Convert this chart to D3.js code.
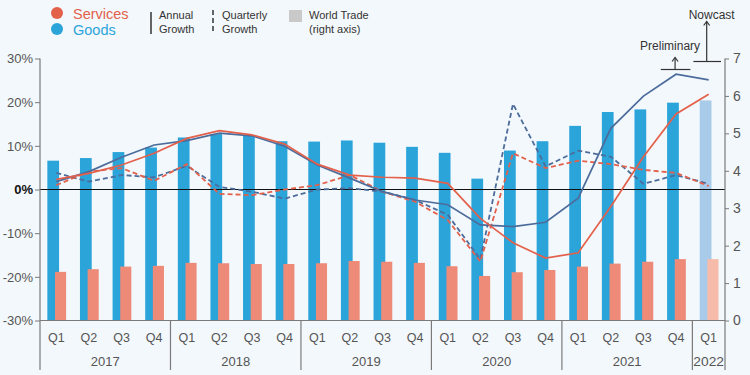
<!DOCTYPE html>
<html>
<head>
<meta charset="utf-8">
<script src="https://cdn.jsdelivr.net/npm/d3@7"></script>
<style>
  body { margin: 0; background: #f3f8fc; }
  svg { display: block; font-family: "Liberation Sans", Arial, sans-serif; }
</style>
</head>
<body>
<svg id="chart" width="750" height="375"></svg>
<script>
// Periods on the x axis
const years    = ['2017', '2018', '2019', '2020', '2021', '2022'];
const periods  = ['2017 Q1','2017 Q2','2017 Q3','2017 Q4','2018 Q1','2018 Q2','2018 Q3','2018 Q4',
                  '2019 Q1','2019 Q2','2019 Q3','2019 Q4','2020 Q1','2020 Q2','2020 Q3','2020 Q4',
                  '2021 Q1','2021 Q2','2021 Q3','2021 Q4','2022 Q1'];

// World trade, trillion USD (right axis)
const goodsTrade    = [4.27,4.34,4.50,4.62,4.89,4.98,4.93,4.79,4.78,4.81,4.75,4.64,4.48,3.79,4.54,4.79,5.20,5.57,5.64,5.82,5.88];
const servicesTrade = [1.30,1.37,1.44,1.46,1.54,1.53,1.51,1.51,1.53,1.59,1.57,1.54,1.45,1.19,1.29,1.35,1.44,1.52,1.57,1.64,1.64];

// Growth rates, % (left axis)
const goodsAnnual       = [1.8,4.1,7.4,10.2,11.2,12.9,12.3,9.9,5.6,2.6,-0.5,-2.4,-3.5,-8.1,-8.5,-7.5,-2.0,14.0,21.4,26.4,25.1];
const servicesAnnual    = [2.3,3.7,5.6,8.3,11.7,13.5,12.5,10.4,5.8,3.3,2.8,2.6,1.4,-6.6,-12.2,-15.7,-14.5,-3.9,7.5,17.3,21.8];
const goodsQuarterly    = [3.8,1.8,3.3,2.8,5.4,0.6,-0.5,-2.1,0.0,0.3,-0.5,-2.4,-5.8,-16.0,19.6,5.3,8.9,7.5,1.3,3.3,1.3];
const servicesQuarterly = [1.0,4.1,4.9,2.0,5.8,-1.0,-1.3,0.0,1.0,3.3,-0.5,-2.8,-7.0,-16.5,8.3,4.9,6.6,5.8,4.5,3.8,0.8];

// Axis ticks
const leftTicks  = [-30, -20, -10, 0, 10, 20, 30];
const rightTicks = [0, 1, 2, 3, 4, 5, 6, 7];

const colours = {
  goodsBar: '#2ba4da', goodsBarLight: '#a8cbea',
  servicesBar: '#ee8b78', servicesBarLight: '#f6bba9',
  goodsLine: '#4c6c9b', servicesLine: '#e3604b',
  axis: '#7a7a7a', text: '#555'
};

const svg = d3.select('#chart');
const margin = {left: 40, right: 25, top: 58.5, bottom: 54.5};
const W = 750, H = 375;

const x = d3.scaleBand().domain(periods).range([margin.left, W - margin.right]).padding(0);
const yL = d3.scaleLinear().domain([-30, 30]).range([H - margin.bottom, margin.top]);
const yR = d3.scaleLinear().domain([0, 7]).range([H - margin.bottom, margin.top]);
const bw = x.bandwidth();
const cx = p => x(p) + bw / 2;
const isNowcast = (d, i) => i === periods.length - 1;

// Bars (right axis)
const barG = svg.append('g');
barG.selectAll('rect.goods').data(goodsTrade).join('rect')
  .attr('class', 'goods')
  .attr('x', (d, i) => x(periods[i]) + bw * 0.225)
  .attr('width', bw * 0.36)
  .attr('y', d => yR(d))
  .attr('height', d => yR(0) - yR(d))
  .attr('fill', (d, i) => isNowcast(d, i) ? colours.goodsBarLight : colours.goodsBar);

barG.selectAll('rect.services').data(servicesTrade).join('rect')
  .attr('class', 'services')
  .attr('x', (d, i) => x(periods[i]) + bw * 0.46)
  .attr('width', bw * 0.34)
  .attr('y', d => yR(d))
  .attr('height', d => yR(0) - yR(d))
  .attr('fill', (d, i) => isNowcast(d, i) ? colours.servicesBarLight : colours.servicesBar);

// Zero line
svg.append('line')
  .attr('x1', margin.left).attr('x2', W - margin.right)
  .attr('y1', yL(0)).attr('y2', yL(0))
  .attr('stroke', '#111').attr('stroke-width', 1.2);

// Growth lines
const line = d3.line().x((d, i) => cx(periods[i])).y(d => yL(d));
const series = [
  {data: goodsQuarterly,    colour: colours.goodsLine,    dash: '5,3'},
  {data: servicesQuarterly, colour: colours.servicesLine, dash: '5,3'},
  {data: goodsAnnual,       colour: colours.goodsLine,    dash: null},
  {data: servicesAnnual,    colour: colours.servicesLine, dash: null}
];
svg.append('g').selectAll('path').data(series).join('path')
  .attr('d', d => line(d.data))
  .attr('fill', 'none')
  .attr('stroke', d => d.colour)
  .attr('stroke-width', d => d.dash ? 1.8 : 1.7)
  .attr('stroke-dasharray', d => d.dash);

// Left axis
const leftAxis = svg.append('g')
  .attr('transform', `translate(${margin.left},0)`)
  .call(d3.axisLeft(yL).tickValues(leftTicks).tickSize(5).tickPadding(2).tickFormat(d => d + '%'));
leftAxis.select('.domain').remove();
leftAxis.selectAll('.tick line').attr('stroke', colours.axis);
leftAxis.selectAll('.tick text')
  .attr('fill', d => d === 0 ? '#111' : colours.text)
  .attr('font-weight', d => d === 0 ? 'bold' : null)
  .attr('font-family', 'inherit').attr('font-size', 13);

// Right axis
const rightAxis = svg.append('g')
  .attr('transform', `translate(${W - margin.right},0)`)
  .call(d3.axisRight(yR).tickValues(rightTicks).tickSize(4).tickPadding(4).tickFormat(d3.format('d')));
rightAxis.select('.domain').remove();
rightAxis.selectAll('.tick line').attr('stroke', colours.axis);
rightAxis.selectAll('.tick text').attr('fill', colours.text).attr('font-family', 'inherit').attr('font-size', 14);

// Axis lines (left and right run down through the category labels)
const axisBottom = H - 5;
svg.append('line').attr('x1', margin.left).attr('x2', margin.left)
  .attr('y1', yL(30)).attr('y2', axisBottom).attr('stroke', colours.axis).attr('stroke-width', 1.2);
svg.append('line').attr('x1', W - margin.right).attr('x2', W - margin.right)
  .attr('y1', yR(7)).attr('y2', axisBottom).attr('stroke', colours.axis).attr('stroke-width', 1.2);
svg.append('line').attr('x1', margin.left).attr('x2', W - margin.right)
  .attr('y1', yL(-30)).attr('y2', yL(-30)).attr('stroke', colours.axis).attr('stroke-width', 1.2);

// Category labels
const xAxisG = svg.append('g').attr('fill', colours.text);
xAxisG.selectAll('text.q').data(periods).join('text')
  .attr('class', 'q')
  .attr('x', d => cx(d)).attr('y', yL(-30) + 21)
  .attr('text-anchor', 'middle').attr('font-size', 12.5)
  .text(d => d.split(' ')[1]);

const yearSpan = yr => {
  const ps = periods.filter(p => p.startsWith(yr));
  return [x(ps[0]), x(ps[ps.length - 1]) + bw];
};
xAxisG.selectAll('text.yr').data(years).join('text')
  .attr('class', 'yr')
  .attr('x', d => d3.mean(yearSpan(d))).attr('y', yL(-30) + 45)
  .attr('text-anchor', 'middle').attr('font-size', 13)
  .attr('textLength', d => d === '2022' ? bw - 2 : null)
  .attr('lengthAdjust', 'spacingAndGlyphs')
  .text(d => d);
svg.append('g').selectAll('line').data(years.slice(1)).join('line')
  .attr('x1', d => yearSpan(d)[0]).attr('x2', d => yearSpan(d)[0])
  .attr('y1', yL(-30)).attr('y2', axisBottom)
  .attr('stroke', colours.axis).attr('stroke-width', 1.2);

// Preliminary / Nowcast annotations
const annot = svg.append('g').attr('stroke', '#333').attr('stroke-width', 1.2).attr('fill', 'none');
const arrowHead = (g, xc, yTop) => g.append('path')
  .attr('d', `M${xc - 3},${yTop + 4} L${xc},${yTop} L${xc + 3},${yTop + 4}`);
const prelim = '2021 Q4', nowcast = '2022 Q1';
const prelimY = yR(7) + 11, nowY = yR(7) + 3;
annot.append('line').attr('x1', x(prelim) + 1).attr('x2', x(prelim) + bw - 2).attr('y1', prelimY).attr('y2', prelimY);
annot.append('line').attr('x1', cx(prelim) - 1).attr('x2', cx(prelim) - 1).attr('y1', prelimY).attr('y2', prelimY - 12);
arrowHead(annot, cx(prelim) - 1, prelimY - 12);
annot.append('line').attr('x1', x(nowcast) + 1).attr('x2', x(nowcast) + bw - 4).attr('y1', nowY).attr('y2', nowY);
annot.append('line').attr('x1', cx(nowcast) - 2).attr('x2', cx(nowcast) - 2).attr('y1', nowY).attr('y2', nowY - 40);
arrowHead(annot, cx(nowcast) - 2, nowY - 40);
svg.append('text').attr('x', cx(prelim) - 6).attr('y', prelimY - 20)
  .attr('text-anchor', 'middle').attr('font-size', 12).attr('fill', '#333').text('Preliminary');
svg.append('text').attr('x', cx(nowcast) + 3).attr('y', nowY - 43)
  .attr('text-anchor', 'middle').attr('font-size', 12).attr('fill', '#333').text('Nowcast');

// Legend
const legend = svg.append('g');
const legendSeries = [
  {label: 'Services', colour: colours.servicesLine, y: 13},
  {label: 'Goods', colour: colours.goodsBar, y: 29}
];
legend.selectAll('circle').data(legendSeries).join('circle')
  .attr('cx', 57).attr('cy', d => d.y).attr('r', 6).attr('fill', d => d.colour);
legend.selectAll('text.ser').data(legendSeries).join('text')
  .attr('class', 'ser')
  .attr('x', 73).attr('y', d => d.y + 5.5).attr('font-size', 14.5)
  .attr('fill', d => d.colour).text(d => d.label);

legend.append('line').attr('x1', 151).attr('x2', 151).attr('y1', 12).attr('y2', 34)
  .attr('stroke', '#333').attr('stroke-width', 1.5);
legend.append('line').attr('x1', 213).attr('x2', 213).attr('y1', 10).attr('y2', 34)
  .attr('stroke', '#333').attr('stroke-width', 1.5).attr('stroke-dasharray', '5,3');
legend.append('rect').attr('x', 289).attr('y', 10).attr('width', 13).attr('height', 12).attr('fill', '#c9c9c9');

const legendText = [
  {x: 159, lines: ['Annual', 'Growth']},
  {x: 222, lines: ['Quarterly', 'Growth']},
  {x: 309, lines: ['World Trade', '(right axis)']}
];
legendText.forEach(t => {
  legend.append('g').selectAll('text').data(t.lines).join('text')
    .attr('x', t.x).attr('y', (d, i) => 19 + i * 14)
    .attr('font-size', 11).attr('fill', '#333').text(d => d);
});
</script>
</body>
</html>
